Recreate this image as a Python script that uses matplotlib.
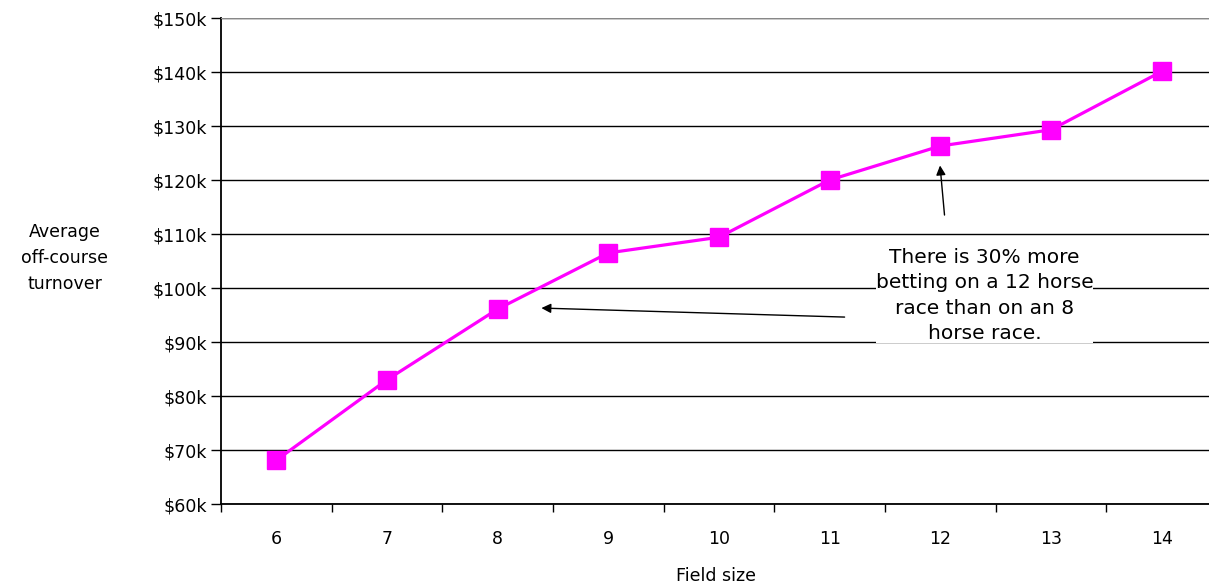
import matplotlib
matplotlib.use("Agg")
import matplotlib.pyplot as plt
from matplotlib.ticker import FuncFormatter, MultipleLocator

field_size = [6, 7, 8, 9, 10, 11, 12, 13, 14]
turnover_k = [68.1, 83.0, 96.1, 106.5, 109.4, 120.0, 126.3, 129.3, 140.1]

note = "There is 30% more\nbetting on a 12 horse\nrace than on an 8\nhorse race."

plt.rcParams["font.family"] = "DejaVu Sans"

fig = plt.figure(figsize=(12.09, 5.88), dpi=100)
ax = fig.add_axes([221 / 1209, 84 / 588, 996 / 1209, 486 / 588])

ax.plot(field_size, turnover_k, color="#FF00FF", lw=2.3, marker="s",
        markersize=12.5, zorder=4, clip_on=False)

ax.set_xlim(5.5, 14.5)
ax.set_ylim(60, 150)
ax.yaxis.set_major_locator(MultipleLocator(10))
ax.yaxis.set_major_formatter(FuncFormatter(lambda v, p: f"${v:.0f}k"))
ax.set_xticks(field_size)
ax.set_xticklabels([str(f) for f in field_size])
ax.set_xticks([f - 0.5 for f in field_size] + [14.5], minor=True)
ax.tick_params(axis="x", which="major", length=0, pad=19, labelsize=12.5)
ax.tick_params(axis="x", which="minor", length=6, width=1, direction="out")
ax.tick_params(axis="y", length=7, width=1, direction="out", labelsize=12.5, pad=3)

ax.grid(axis="y", color="black", lw=1)
for sp in ["top", "right"]:
    ax.spines[sp].set_visible(False)
ax.spines["left"].set_linewidth(1.3)
ax.spines["bottom"].set_linewidth(1.3)
ax.axhline(150, color="#888888", lw=1.5, zorder=3)

ax.set_xlabel("Field size", fontsize=12.5, va="center")
ax.xaxis.set_label_coords(0.497, -(576 - 504) / 486)
fig.text(65 / 1209, 1 - 258 / 588, "Average\noff-course\nturnover", ha="center",
         va="center", fontsize=12.5, linespacing=1.6)

ax.text(12.4, 98.6, note, ha="center", va="center", fontsize=14.5, linespacing=1.42,
        bbox=dict(facecolor="white", edgecolor="none", pad=0), zorder=5)

arrow = dict(arrowstyle="-|>", color="black", lw=1, mutation_scale=14)
ax.annotate("", xy=(11.995, 123.2), xytext=(12.04, 113.0), arrowprops=arrow, zorder=6)
ax.annotate("", xy=(8.37, 96.3), xytext=(11.16, 94.6), arrowprops=arrow, zorder=6)

fig.savefig("out.png", dpi=100)
